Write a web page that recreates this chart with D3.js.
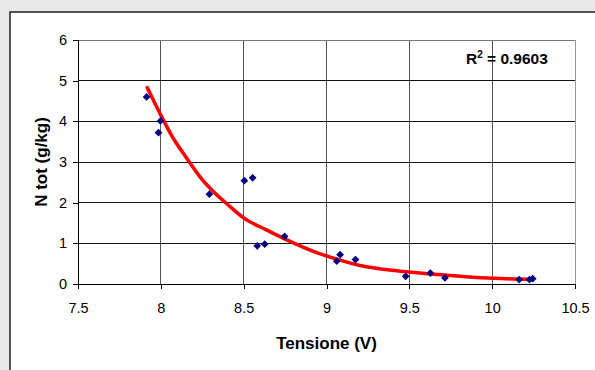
<!DOCTYPE html>
<html>
<head>
<meta charset="utf-8">
<script src="https://d3js.org/d3.v7.min.js"></script>
<style>
  html, body { margin: 0; padding: 0; background: #e8e8e8; }
  svg { display: block; }
  text { font-family: "Liberation Sans", Arial, sans-serif; fill: #000; }
</style>
</head>
<body>
<div id="chart"></div>
<script>
// measured points (Tensione V, N tot g/kg)
const tensione = [7.914, 7.998, 7.986, 8.293, 8.504, 8.554, 8.582, 8.627, 8.747,
                  9.062, 9.082, 9.175, 9.478, 9.627, 9.715, 10.163, 10.225, 10.245];
const nTot = [4.60, 4.01, 3.72, 2.21, 2.54, 2.61, 0.94, 0.98, 1.17,
              0.56, 0.72, 0.60, 0.19, 0.27, 0.15, 0.11, 0.11, 0.13];

// trend line
const trendX = [7.914, 7.994, 8.074, 8.155, 8.235, 8.315, 8.416, 8.502, 8.637,
                8.757, 8.948, 9.008, 9.209, 9.41, 9.61, 9.811, 10.012, 10.243];
const trendY = [4.86, 4.20, 3.59, 3.10, 2.64, 2.28, 1.91, 1.62, 1.33,
                1.09, 0.76, 0.68, 0.45, 0.33, 0.25, 0.19, 0.14, 0.11];

const xTicks = [7.5, 8, 8.5, 9, 9.5, 10, 10.5];
const yTicks = [0, 1, 2, 3, 4, 5, 6];
const r2Label = "0.9603";

const width = 595, height = 370;
const plot = { left: 78, right: 575, top: 40, bottom: 284 };

const svg = d3.select('#chart')
    .append('svg')
    .attr('width', width)
    .attr('height', height);

// chart area (white box with dark frame)
svg.append('rect')
    .attr('x', 10).attr('y', 12)
    .attr('width', width + 20).attr('height', height + 20)
    .attr('fill', '#fff')
    .attr('stroke', '#222')
    .attr('stroke-width', 1.5);

const x = d3.scaleLinear().domain([7.5, 10.5]).range([plot.left, plot.right]);
const y = d3.scaleLinear().domain([0, 6]).range([plot.bottom, plot.top]);

// gridlines
svg.append('g')
    .selectAll('line')
    .data(xTicks.slice(1))
    .join('line')
    .attr('x1', d => x(d)).attr('x2', d => x(d))
    .attr('y1', plot.top).attr('y2', plot.bottom)
    .attr('stroke', d => d === 10.5 ? '#999' : '#555')
    .attr('stroke-width', 1)
    .attr('shape-rendering', 'crispEdges');

svg.append('g')
    .selectAll('line')
    .data(yTicks.slice(1))
    .join('line')
    .attr('x1', plot.left).attr('x2', plot.right)
    .attr('y1', d => y(d)).attr('y2', d => y(d))
    .attr('stroke', d => d === 6 ? '#777' : '#111')
    .attr('stroke-width', 1)
    .attr('shape-rendering', 'crispEdges');

// axes
const xAxis = svg.append('g')
    .attr('transform', `translate(0,${plot.bottom})`)
    .call(d3.axisBottom(x).tickValues(xTicks).tickSize(5).tickPadding(14).tickFormat(d3.format('')));
const yAxis = svg.append('g')
    .attr('transform', `translate(${plot.left},0)`)
    .call(d3.axisLeft(y).tickValues(yTicks).tickSize(5).tickPadding(6).tickFormat(d3.format('d')));

[xAxis, yAxis].forEach(a => {
    a.select('.domain').attr('stroke', '#000').attr('shape-rendering', 'crispEdges');
    a.selectAll('.tick line').attr('stroke', '#000').attr('shape-rendering', 'crispEdges');
    a.selectAll('.tick text')
        .attr('font-family', '"Liberation Sans", Arial, sans-serif')
        .attr('font-size', 14.5)
        .attr('fill', '#000');
});

// trend line
const line = d3.line()
    .x(d => x(d[0]))
    .y(d => y(d[1]))
    .curve(d3.curveMonotoneX);

svg.append('path')
    .datum(trendX.map((v, i) => [v, trendY[i]]))
    .attr('d', line)
    .attr('fill', 'none')
    .attr('stroke', '#ff0000')
    .attr('stroke-width', 3.5)
    .attr('stroke-linecap', 'butt');

// data points (diamonds)
const diamond = d3.symbol().type(d3.symbolSquare).size(30);
svg.append('g')
    .selectAll('path')
    .data(tensione.map((v, i) => [v, nTot[i]]))
    .join('path')
    .attr('d', diamond)
    .attr('transform', d => `translate(${x(d[0])},${y(d[1])}) rotate(45)`)
    .attr('fill', '#000080');

// R squared label
const r2 = svg.append('text')
    .attr('x', 466).attr('y', 64)
    .attr('font-size', 15.5)
    .attr('font-weight', 'bold');
r2.append('tspan').text('R');
r2.append('tspan').attr('dy', -6).attr('font-size', 10).text('2');
r2.append('tspan').attr('dy', 6).text(' = ' + r2Label);

// axis titles
svg.append('text')
    .attr('x', (plot.left + plot.right) / 2)
    .attr('y', 349)
    .attr('text-anchor', 'middle')
    .attr('font-size', 17)
    .attr('font-weight', 'bold')
    .text('Tensione (V)');

svg.append('text')
    .attr('transform', `translate(47,${(plot.top + plot.bottom) / 2}) rotate(-90)`)
    .attr('text-anchor', 'middle')
    .attr('font-size', 17)
    .attr('font-weight', 'bold')
    .text('N tot (g/kg)');
</script>
</body>
</html>
